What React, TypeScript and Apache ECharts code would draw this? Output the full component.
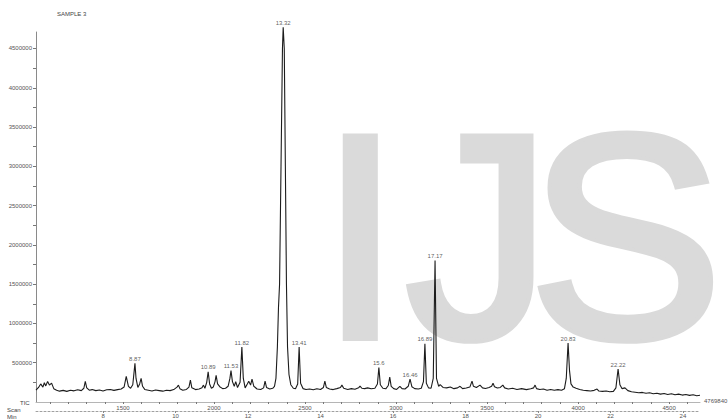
import { useEffect, useRef } from "react";
import * as echarts from "echarts";

// TIC trace: [retention time (min), abundance]
const ticTrace: [number, number][] = [
  [6.15, 150000], [6.22, 185000], [6.28, 230000], [6.34, 190000], [6.38, 245000], [6.42, 205000],
  [6.47, 262000], [6.52, 215000], [6.58, 240000], [6.64, 170000], [6.72, 150000], [6.8, 138000],
  [6.9, 148000], [7.0, 135000], [7.1, 150000], [7.2, 142000], [7.3, 155000], [7.4, 145000],
  [7.47, 175000], [7.51, 262000], [7.55, 180000], [7.62, 150000], [7.7, 158000], [7.8, 145000],
  [7.9, 152000], [8.0, 140000], [8.1, 155000], [8.2, 160000], [8.3, 148000], [8.4, 158000],
  [8.5, 165000], [8.58, 190000], [8.64, 325000], [8.7, 200000], [8.76, 175000], [8.82, 220000],
  [8.86, 400000], [8.88, 494000], [8.91, 300000], [8.96, 185000], [9.01, 230000], [9.05, 300000],
  [9.09, 200000], [9.15, 160000], [9.25, 150000], [9.35, 140000], [9.45, 152000], [9.55, 145000],
  [9.65, 138000], [9.75, 150000], [9.85, 145000], [9.95, 158000], [10.04, 190000], [10.08, 215000],
  [10.12, 170000], [10.2, 150000], [10.3, 160000], [10.37, 190000], [10.41, 278000], [10.45, 180000],
  [10.55, 158000], [10.65, 165000], [10.73, 180000], [10.77, 215000], [10.81, 175000], [10.86, 250000],
  [10.9, 385000], [10.94, 230000], [10.99, 175000], [11.04, 190000], [11.09, 260000], [11.12, 340000],
  [11.16, 230000], [11.22, 195000], [11.3, 170000], [11.38, 175000], [11.45, 200000], [11.5, 300000],
  [11.53, 400000], [11.57, 260000], [11.62, 200000], [11.66, 260000], [11.71, 185000], [11.78, 250000],
  [11.83, 700000], [11.87, 300000], [11.92, 180000], [11.98, 230000], [12.02, 265000], [12.07, 215000],
  [12.11, 290000], [12.16, 200000], [12.25, 165000], [12.35, 160000], [12.43, 180000], [12.47, 266000],
  [12.51, 185000], [12.6, 165000], [12.68, 175000], [12.73, 200000], [12.77, 300000], [12.81, 700000],
  [12.84, 1200000], [12.87, 1500000], [12.91, 3000000], [12.95, 4500000], [12.97, 4770000], [13.0, 4500000],
  [13.03, 3000000], [13.06, 1500000], [13.09, 700000], [13.13, 350000], [13.18, 220000], [13.25, 175000],
  [13.31, 170000], [13.37, 230000], [13.41, 700000], [13.45, 240000], [13.52, 170000], [13.6, 160000],
  [13.7, 165000], [13.8, 155000], [13.9, 168000], [14.0, 160000], [14.08, 185000], [14.12, 266000],
  [14.16, 185000], [14.25, 165000], [14.35, 158000], [14.45, 170000], [14.55, 185000], [14.59, 215000],
  [14.64, 175000], [14.75, 160000], [14.85, 170000], [14.95, 162000], [15.05, 180000], [15.09, 203000],
  [15.14, 175000], [15.22, 170000], [15.3, 180000], [15.4, 168000], [15.5, 175000], [15.57, 230000],
  [15.61, 440000], [15.65, 220000], [15.72, 175000], [15.8, 168000], [15.87, 210000], [15.91, 316000],
  [15.95, 200000], [16.02, 170000], [16.1, 160000], [16.19, 200000], [16.25, 170000], [16.33, 165000],
  [16.42, 200000], [16.47, 291000], [16.52, 195000], [16.6, 170000], [16.7, 165000], [16.78, 175000],
  [16.84, 260000], [16.88, 740000], [16.92, 240000], [16.98, 180000], [17.05, 175000], [17.11, 300000],
  [17.16, 1800000], [17.2, 300000], [17.26, 200000], [17.3, 220000], [17.38, 185000], [17.48, 180000],
  [17.58, 190000], [17.68, 170000], [17.78, 180000], [17.85, 200000], [17.92, 170000], [18.02, 178000],
  [18.12, 190000], [18.18, 266000], [18.22, 200000], [18.3, 185000], [18.4, 215000], [18.47, 180000],
  [18.55, 172000], [18.65, 185000], [18.72, 200000], [18.76, 240000], [18.8, 195000], [18.88, 178000],
  [18.96, 185000], [19.03, 215000], [19.08, 180000], [19.18, 165000], [19.3, 175000], [19.42, 160000],
  [19.55, 170000], [19.68, 158000], [19.8, 168000], [19.88, 180000], [19.92, 215000], [19.96, 170000],
  [20.05, 160000], [20.15, 165000], [20.25, 150000], [20.35, 160000], [20.45, 150000], [20.55, 158000],
  [20.65, 150000], [20.73, 170000], [20.78, 300000], [20.83, 750000], [20.87, 400000], [20.91, 230000],
  [20.97, 190000], [21.05, 175000], [21.15, 160000], [21.25, 150000], [21.35, 145000], [21.45, 140000],
  [21.55, 148000], [21.63, 165000], [21.68, 140000], [21.78, 135000], [21.88, 140000], [21.98, 130000],
  [22.08, 135000], [22.15, 180000], [22.21, 420000], [22.26, 220000], [22.32, 170000], [22.4, 180000],
  [22.48, 145000], [22.58, 130000], [22.68, 125000], [22.78, 118000], [22.88, 122000], [22.98, 112000],
  [23.08, 118000], [23.18, 105000], [23.28, 112000], [23.38, 100000], [23.48, 108000], [23.58, 96000],
  [23.68, 104000], [23.78, 92000], [23.88, 100000], [23.98, 88000], [24.08, 95000], [24.18, 84000],
  [24.28, 92000], [24.38, 80000], [24.47, 86000],
];

const peakLabels = ["8.87", "10.89", "11.53", "11.82", "13.32", "13.41", "15.6", "16.46", "16.89", "17.17", "20.83", "22.22"];
const peakTimes = [8.88, 10.9, 11.53, 11.83, 12.97, 13.41, 15.61, 16.47, 16.88, 17.16, 20.83, 22.21];
const peakValues = [494000, 385000, 400000, 700000, 4770000, 700000, 440000, 291000, 740000, 1800000, 750000, 420000];

const yLabelValues = [500000, 1000000, 1500000, 2000000, 2500000, 3000000, 3500000, 4000000, 4500000];
const yTickValues = [250000, 500000, 750000, 1000000, 1250000, 1500000, 1750000, 2000000, 2250000, 2500000, 2750000, 3000000, 3250000, 3500000, 3750000, 4000000, 4250000, 4500000];
const scanLabelValues = [1500, 2000, 2500, 3000, 3500, 4000, 4500];
const scanTickValues = [1100, 1200, 1300, 1400, 1500, 1600, 1700, 1800, 1900, 2000, 2100, 2200, 2300, 2400, 2500, 2600, 2700, 2800, 2900, 3000, 3100, 3200, 3300, 3400, 3500, 3600, 3700, 3800, 3900, 4000, 4100, 4200, 4300, 4400, 4500, 4600];
const minuteLabelValues = [8, 10, 12, 14, 16, 18, 20, 22, 24];
const timeRange = [6.15, 24.47];
const scanRange = [1022, 4670];
const yMax = 4710000;
const maxAbundanceText = "4769840";

const FONT = "Liberation Sans";

export default function App() {
  const ref = useRef<HTMLDivElement>(null);
  useEffect(() => {
    if (!ref.current) return;
    const chart = echarts.init(ref.current, null, { renderer: "svg" });
    const labelStyle = { fontSize: 6, color: "#555", fontFamily: FONT, formatter: (v: number) => String(v) };
    const wm = (text: string, x: number) => ({
      type: "text",
      z: 0,
      x,
      y: 236,
      style: {
        text,
        fontSize: 290,
        fontFamily: FONT,
        fontWeight: "normal",
        fill: "#dadada",
        stroke: "#dadada",
        lineWidth: 8,
        align: "left",
        verticalAlign: "middle",
      },
    });
    const small = (text: string, x: number, y: number, fill = "#444") => ({
      type: "text",
      z: 5,
      x,
      y,
      style: { text, fontSize: 6, fontFamily: FONT, fill, align: "left", verticalAlign: "middle" },
    });
    chart.setOption({
      animation: false,
      backgroundColor: "#ffffff",
      grid: { left: 36, right: 28, top: 32, bottom: 15 },
      xAxis: [
        {
          type: "value",
          min: timeRange[0],
          max: timeRange[1],
          position: "bottom",
          offset: 9,
          axisLine: { onZero: false, lineStyle: { color: "#a0a0a0", type: [2, 2], width: 1 } },
          axisTick: { show: true, length: 2, customValues: minuteLabelValues, lineStyle: { color: "#888" } },
          axisLabel: { ...labelStyle, customValues: minuteLabelValues, margin: 2 },
          splitLine: { show: false },
        },
        {
          type: "value",
          min: scanRange[0],
          max: scanRange[1],
          position: "bottom",
          offset: 0,
          axisLine: { onZero: false, lineStyle: { color: "#b5b5b5", width: 1 } },
          axisTick: { show: true, length: 2, customValues: scanTickValues, lineStyle: { color: "#777" } },
          axisLabel: { ...labelStyle, customValues: scanLabelValues, margin: 3 },
          splitLine: { show: false },
        },
      ],
      yAxis: {
        type: "value",
        min: 0,
        max: yMax,
        axisLine: { show: true, onZero: false, lineStyle: { color: "#8a8a8a", width: 1 } },
        axisTick: { show: true, length: 3, customValues: yTickValues, lineStyle: { color: "#777" } },
        axisLabel: { ...labelStyle, customValues: yLabelValues, margin: 4 },
        splitLine: { show: false },
      },
      series: [
        {
          type: "line",
          xAxisIndex: 0,
          data: ticTrace,
          showSymbol: false,
          clip: false,
          z: 3,
          lineStyle: { color: "#1c1c1c", width: 1.1 },
        },
        {
          type: "scatter",
          xAxisIndex: 0,
          clip: false,
          z: 4,
          symbolSize: 1,
          itemStyle: { color: "rgba(0,0,0,0)" },
          data: peakLabels.map((name, i) => ({ name, value: [peakTimes[i], peakValues[i]] })),
          label: {
            show: true,
            position: "top",
            distance: 1,
            formatter: (p: any) => p.name,
            fontSize: 6,
            color: "#333",
            fontFamily: FONT,
            textBorderWidth: 0,
          },
        },
      ],
      graphic: [
        wm("I", 320),
        wm("J", 406),
        wm("S", 529),
        small("SAMPLE 3", 57, 14),
        small("TIC", 20, 403),
        small("Scan", 7, 410),
        small("Min", 7, 417),
        small(maxAbundanceText, 704, 401, "#555"),
      ],
    });
    return () => chart.dispose();
  }, []);
  return <div ref={ref} style={{ width: 728, height: 419, position: "fixed", left: 0, top: 0 }} />;
}
